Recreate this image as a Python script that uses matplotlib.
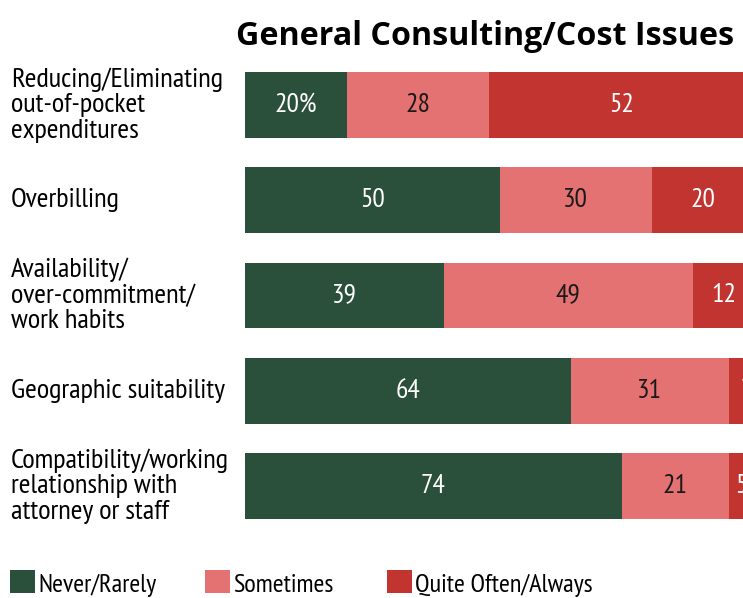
import matplotlib
matplotlib.use("Agg")
import matplotlib.pyplot as plt
from matplotlib.patches import Rectangle

categories = [
    "Reducing/Eliminating\nout-of-pocket\nexpenditures",
    "Overbilling",
    "Availability/\nover-commitment/\nwork habits",
    "Geographic suitability",
    "Compatibility/working\nrelationship with\nattorney or staff",
]
never_rarely = [20, 50, 39, 64, 74]
sometimes = [28, 30, 49, 31, 21]
quite_often = [52, 20, 12, 7, 5]
series_names = ["Never/Rarely", "Sometimes", "Quite Often/Always"]
colors = ["#2a4f3a", "#e57272", "#c13430"]
text_colors = ["white", "#1a1a1a", "white"]

plt.rcParams['font.family'] = ['PT Sans Narrow', 'Roboto Condensed',
                               'Fira Sans Condensed', 'DejaVu Sans']

fig = plt.figure(figsize=(7.43, 5.98), dpi=100)
ax = fig.add_axes([245 / 743, 1 - 533.6 / 598, 1 - 245 / 743, (533.6 - 57.4) / 598])

ypos = list(range(len(categories)))
left = [0] * len(categories)
for k, (vals, col, tcol) in enumerate(zip([never_rarely, sometimes, quite_often],
                                          colors, text_colors)):
    ax.barh(ypos, vals, left=left, height=0.69, color=col, edgecolor="none")
    for i, v in enumerate(vals):
        label = f"{v}%" if (i == 0 and k == 0) else str(v)
        ax.text(left[i] + v / 2, i, label, ha="center", va="center",
                color=tcol, fontsize=20)
    left = [l + v for l, v in zip(left, vals)]

# the scale runs past the right edge, so the last segments get cut off
ax.set_xlim(0, (743 - 245) / 5.09)
ax.set_ylim(4.5, -0.5)
ax.axis("off")

for i, cat in enumerate(categories):
    fig.text(11 / 743, ax.transData.transform((0, i))[1] / fig.bbox.height,
             cat, ha="left", va="center", fontsize=20.5, linespacing=1.08)

fig.text(485 / 743, 1 - 45 / 598, "General Consulting/Cost Issues",
         ha="center", va="baseline", fontsize=23.2, fontweight="bold",
         family=["Open Sans", "DejaVu Sans"])

# legend drawn along the bottom edge
legend_x = [10, 205, 387]
for x, name, col in zip(legend_x, series_names, colors):
    fig.patches.append(Rectangle((x / 743, 1 - 593 / 598), 25 / 743, 23 / 598,
                                 transform=fig.transFigure, facecolor=col,
                                 edgecolor="none"))
    fig.text((x + 28) / 743, 1 - 592 / 598, name, ha="left", va="baseline",
             fontsize=19)

fig.savefig("out.png", dpi=100)
